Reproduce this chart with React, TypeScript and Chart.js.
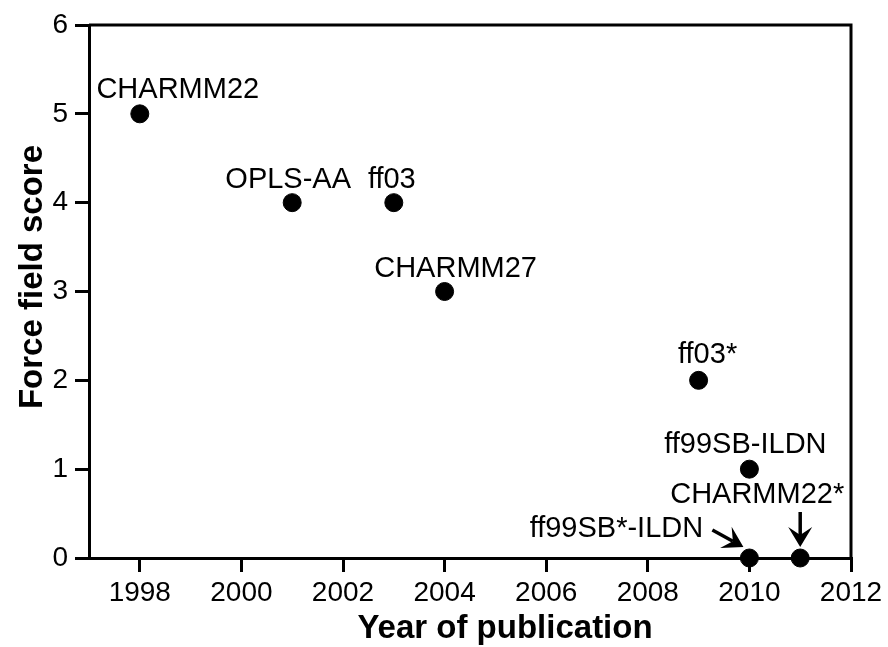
import React, { useEffect, useRef } from "react";
import { Chart, registerables } from "chart.js";

Chart.register(...registerables);

const forceFields = ["CHARMM22", "OPLS-AA", "ff03", "CHARMM27", "ff03*", "ff99SB-ILDN", "CHARMM22*", "ff99SB*-ILDN"];
const years = [1998, 2001, 2003, 2004, 2009, 2010, 2011, 2010];
const scores = [5, 4, 4, 3, 2, 1, 0, 0];
const xTickValues = [1998, 2000, 2002, 2004, 2006, 2008, 2010, 2012];
const yTickValues = [0, 1, 2, 3, 4, 5, 6];

const FONT = '"Liberation Sans", Arial, Helvetica, sans-serif';

// label placement (pixel offsets from the point: centre x, baseline y) and optional arrows
const labelStyle: Record<string, { dx: number; dy: number; arrow?: [number, number, number, number] }> = {
  "CHARMM22": { dx: 38, dy: -16 },
  "OPLS-AA": { dx: -4, dy: -15 },
  "ff03": { dx: -2, dy: -15 },
  "CHARMM27": { dx: 11, dy: -15 },
  "ff03*": { dx: 9, dy: -17 },
  "ff99SB-ILDN": { dx: -4, dy: -16 },
  "CHARMM22*": { dx: -43, dy: -55, arrow: [0, -46, 0, -11] },
  "ff99SB*-ILDN": { dx: -133, dy: -21, arrow: [-37, -28, -6, -11] },
};

function drawArrow(ctx: CanvasRenderingContext2D, x1: number, y1: number, x2: number, y2: number) {
  const ang = Math.atan2(y2 - y1, x2 - x1);
  const headLen = 20;
  const halfW = 12;
  const notch = 12;
  const ux = Math.cos(ang), uy = Math.sin(ang);
  const px = -uy, py = ux;
  ctx.save();
  ctx.strokeStyle = "#000";
  ctx.fillStyle = "#000";
  ctx.lineWidth = 3.5;
  ctx.beginPath();
  ctx.moveTo(x1, y1);
  ctx.lineTo(x2 - ux * notch, y2 - uy * notch);
  ctx.stroke();
  ctx.beginPath();
  ctx.moveTo(x2, y2);
  ctx.lineTo(x2 - ux * headLen + px * halfW, y2 - uy * headLen + py * halfW);
  ctx.lineTo(x2 - ux * notch, y2 - uy * notch);
  ctx.lineTo(x2 - ux * headLen - px * halfW, y2 - uy * headLen - py * halfW);
  ctx.closePath();
  ctx.fill();
  ctx.restore();
}

const annotatePlugin = {
  id: "annotate",
  afterDraw(chart: any) {
    const ctx: CanvasRenderingContext2D = chart.ctx;
    const { chartArea } = chart;
    const xs = chart.scales.x;
    const ys = chart.scales.y;
    ctx.save();
    // box (top and right sides)
    ctx.strokeStyle = "#000";
    ctx.lineWidth = 3;
    ctx.beginPath();
    ctx.moveTo(chartArea.left, chartArea.top);
    ctx.lineTo(chartArea.right, chartArea.top);
    ctx.lineTo(chartArea.right, chartArea.bottom);
    ctx.stroke();

    // point labels
    ctx.fillStyle = "#000";
    ctx.font = `29px ${FONT}`;
    ctx.textAlign = "center";
    ctx.textBaseline = "alphabetic";
    forceFields.forEach((name, i) => {
      const px = xs.getPixelForValue(years[i]);
      const py = ys.getPixelForValue(scores[i]);
      const st = labelStyle[name];
      ctx.fillText(name, px + st.dx, py + st.dy);
      if (st.arrow) {
        const [a, b, c, d] = st.arrow;
        drawArrow(ctx, px + a, py + b, px + c, py + d);
      }
    });

    // axis titles
    ctx.fillStyle = "#000";
    ctx.font = `bold 33px ${FONT}`;
    ctx.textAlign = "center";
    ctx.fillText("Year of publication", 505, 638);
    ctx.save();
    ctx.translate(42, 277);
    ctx.rotate(-Math.PI / 2);
    ctx.fillText("Force field score", 0, 0);
    ctx.restore();
    ctx.restore();
  },
};

export default function App() {
  const canvasRef = useRef<HTMLCanvasElement | null>(null);
  useEffect(() => {
    if (!canvasRef.current) return;
    const chart = new Chart(canvasRef.current, {
      type: "scatter",
      data: {
        datasets: [
          {
            label: "Force field score",
            data: years.map((y, i) => ({ x: y, y: scores[i] })),
            backgroundColor: "#000",
            borderColor: "#000",
            pointRadius: 9,
            pointHoverRadius: 9,
            clip: false as any,
          },
        ],
      },
      options: {
        responsive: false,
        animation: false,
        devicePixelRatio: 1,
        layout: { padding: { top: 25, right: 37, left: 0, bottom: 0 } },
        plugins: { legend: { display: false }, tooltip: { enabled: false } },
        scales: {
          x: {
            type: "linear",
            min: 1997,
            max: 2012,
            afterBuildTicks: (s: any) => {
              s.ticks = xTickValues.map((v) => ({ value: v }));
            },
            afterFit: (s: any) => {
              s.height = 89;
            },
            grid: { drawOnChartArea: false, drawTicks: true, tickLength: 14, color: "#000", lineWidth: 3 },
            border: { display: true, color: "#000", width: 3 },
            ticks: {
              color: "#000",
              font: { family: FONT, size: 28 },
              padding: 4,
              maxRotation: 0,
              autoSkip: false,
              callback: (v: any) => String(v),
            },
          },
          y: {
            type: "linear",
            min: 0,
            max: 6,
            afterBuildTicks: (s: any) => {
              s.ticks = yTickValues.map((v) => ({ value: v }));
            },
            afterFit: (s: any) => {
              s.width = 89;
            },
            grid: { drawOnChartArea: false, drawTicks: true, tickLength: 14, color: "#000", lineWidth: 3 },
            border: { display: true, color: "#000", width: 3 },
            ticks: { color: "#000", font: { family: FONT, size: 28 }, padding: 7, callback: (v: any) => String(v) },
          },
        },
      },
      plugins: [annotatePlugin],
    });
    return () => chart.destroy();
  }, []);
  return (
    <div style={{ position: "fixed", left: 0, top: 0, width: 888, height: 647, background: "#fff" }}>
      <canvas ref={canvasRef} width={888} height={647} style={{ display: "block" }} />
    </div>
  );
}
